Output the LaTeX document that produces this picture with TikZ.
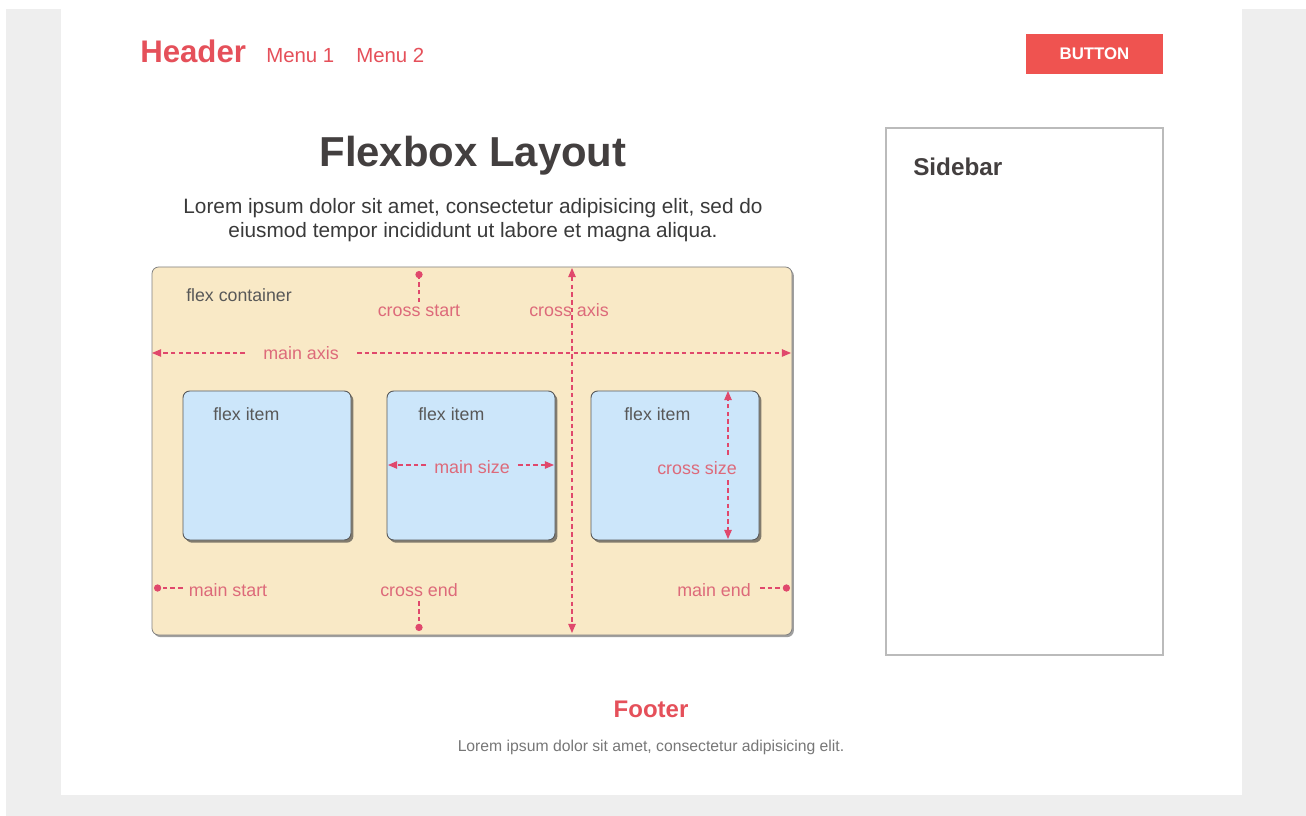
\documentclass[tikz,border=0pt]{standalone}
\usepackage{fontspec}
\setmainfont{Liberation Sans}
\usetikzlibrary{arrows.meta,shadows}

\definecolor{pagebg}{HTML}{EEEEEE}
\definecolor{accent}{HTML}{EF5350}
\definecolor{headred}{HTML}{E5505A}
\definecolor{titleink}{HTML}{433F3F}
\definecolor{bodyink}{HTML}{3A3A3A}
\definecolor{mutedink}{HTML}{777777}
\definecolor{labelink}{HTML}{585858}
\definecolor{beige}{HTML}{F9E9C6}
\definecolor{skyblue}{HTML}{CCE6FA}
\definecolor{guide}{HTML}{E0486C}
\definecolor{guidetext}{HTML}{DD6A7A}
\definecolor{framegray}{HTML}{BBBBBB}

\newcommand{\fs}[1]{\fontsize{#1}{#1}\selectfont}

\tikzset{
  px/.style={x=0.75pt,y=-0.75pt},
  txt/.style={inner sep=0pt,anchor=base},
  guidelabel/.style={txt,text=guidetext,font=\fs{13.4}},
  guideline/.style={draw=guide,line width=0.8pt,dash pattern=on 3.4pt off 2.4pt},
  tip/.tip={Triangle[length=6.8pt,width=5.6pt]},
  dot/.tip={Circle[length=5.4pt]},
  flexbox/.style={draw=black!50,line width=0.6pt,fill=beige,rounded corners=5pt,
    minimum width=480pt,minimum height=276pt,inner sep=0pt,
    drop shadow={shadow xshift=1.4pt,shadow yshift=-1.6pt,opacity=0.5,fill=black!75}},
  flexitem/.style={draw=black!65,line width=0.7pt,fill=skyblue,rounded corners=5pt,
    minimum width=126pt,minimum height=111.75pt,inner sep=0pt,
    drop shadow={shadow xshift=1.8pt,shadow yshift=-2pt,opacity=0.6,fill=black!80}},
}

\begin{document}
\begin{tikzpicture}[px]
  \useasboundingbox (0,0) rectangle (1306,816);
  % page background and content panel
  \fill[white] (0,0) rectangle (1306,816);
  \fill[pagebg] (6,9) rectangle (1306,816);
  \fill[white] (61,9) rectangle (1242,795);

  % header bar
  \node[txt,anchor=base west,text=headred,font=\fs{23.4}\bfseries] (header) at (140,63) {Header};
  \node[txt,anchor=base west,text=headred,font=\fs{15.3}] (menu1) at (266,63) {Menu 1};
  \node[txt,anchor=base west,text=headred,font=\fs{15.3}] (menu2) at (356,63) {Menu 2};
  \node[fill=accent,minimum width=102.75pt,minimum height=30pt,inner sep=0pt,
        text=white,font=\fs{12.6}\bfseries] (button) at (1094.5,54) {BUTTON};

  % title and intro text
  \node[txt,text=titleink,font=\fs{31.4}\bfseries] (title) at (473,167) {Flexbox Layout};
  \node[txt,text=bodyink,font=\fs{15.6}] (para1) at (473,214)
    {Lorem ipsum dolor sit amet, consectetur adipisicing elit, sed do};
  \node[txt,text=bodyink,font=\fs{15.6}] (para2) at (473,238)
    {eiusmod tempor incididunt ut labore et magna aliqua.};

  % flex container with its three items
  \node[flexbox] (container) at (472,451) {};
  \node[flexitem] (item1) at (267,465.5) {};
  \node[flexitem] (item2) at (471,465.5) {};
  \node[flexitem] (item3) at (675,465.5) {};

  \node[txt,anchor=base west,text=labelink,font=\fs{13.3}] (containerlabel) at (186,302) {flex container};
  \node[txt,anchor=base west,text=labelink,font=\fs{13.3}] (itemlabel1) at (213,420) {flex item};
  \node[txt,anchor=base west,text=labelink,font=\fs{13.3}] (itemlabel2) at (418,420) {flex item};
  \node[txt,anchor=base west,text=labelink,font=\fs{13.3}] (itemlabel3) at (624,420) {flex item};

  % guide labels
  \node[guidelabel] (crossstart) at (419,317) {cross start};
  \node[guidelabel] (crossaxis)  at (569,317) {cross axis};
  \node[guidelabel] (mainaxis)   at (301,360) {main axis};
  \node[guidelabel] (mainsize)   at (472,473) {main size};
  \node[guidelabel] (crosssize)  at (697,474) {cross size};
  \node[guidelabel] (mainstart)  at (228,596) {main start};
  \node[guidelabel] (crossend)   at (419,596) {cross end};
  \node[guidelabel] (mainend)    at (714,596) {main end};

  % guide end points
  \coordinate (cstop)  at (419,271);
  \coordinate (catop)  at (572,268);
  \coordinate (cabot)  at (572,633);
  \coordinate (maleft) at (152,353);
  \coordinate (maright) at (791,353);
  \coordinate (msleft) at (388,465);
  \coordinate (msright) at (554,465);
  \coordinate (cstip)  at (728,391);
  \coordinate (csbot)  at (728,539);
  \coordinate (mstart) at (154,588);
  \coordinate (cebot)  at (419,631);
  \coordinate (mendpt) at (790,588);

  % guides
  \draw[guideline,-dot] (crossstart.north) ++(0,-3) -- (cstop);
  \draw[guideline,tip-tip] (catop) -- (cabot);
  \draw[guideline,-tip] (maleft -| mainaxis.west) ++(-18,0) -- (maleft);
  \draw[guideline,-tip] (maright -| mainaxis.east) ++(18,0) -- (maright);
  \draw[guideline,-tip] (msleft -| mainsize.west) ++(-8,0) -- (msleft);
  \draw[guideline,-tip] (msright -| mainsize.east) ++(8,0) -- (msright);
  \draw[guideline,-tip] (cstip |- crosssize.north) ++(0,-6) -- (cstip);
  \draw[guideline,-tip] (csbot |- crosssize.south) ++(0,6) -- (csbot);
  \draw[guideline,-dot] (mstart -| mainstart.west) ++(-6,0) -- (mstart);
  \draw[guideline,-dot] (crossend.south) ++(0,5) -- (cebot);
  \draw[guideline,-dot] (mendpt -| mainend.east) ++(9,0) -- (mendpt);

  % sidebar
  \node[draw=framegray,line width=0.8pt,fill=white,minimum width=207.75pt,
        minimum height=395.25pt,inner sep=0pt] (sidebar) at (1024.5,391.5) {};
  \node[txt,anchor=base west,text=titleink,font=\fs{18.2}\bfseries] (sidebartitle) at (913,176) {Sidebar};

  % footer
  \node[txt,text=headred,font=\fs{18}\bfseries] (footer) at (651,717) {Footer};
  \node[txt,text=mutedink,font=\fs{11.8}] (footertext) at (651,751)
    {Lorem ipsum dolor sit amet, consectetur adipisicing elit.};
\end{tikzpicture}
\end{document}
